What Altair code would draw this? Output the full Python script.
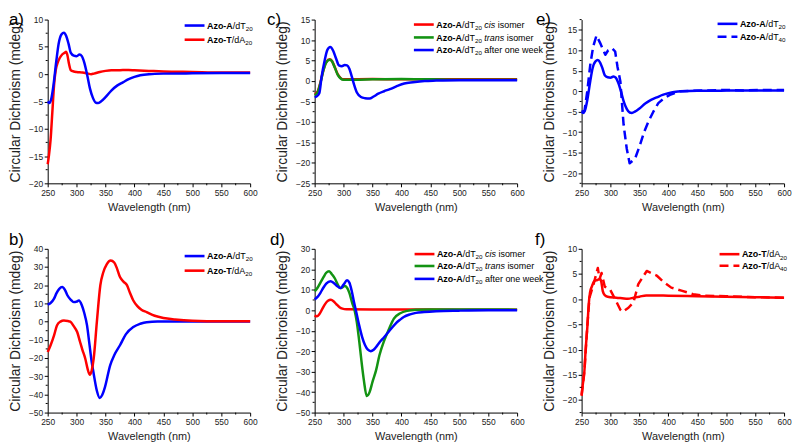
import altair as alt
import pandas as pd

# ---------------- data ----------------
# a) / e) Azo-A/dT20
WL_A20 = [250, 253, 256, 260, 265, 269, 274, 278, 282, 286, 290, 295, 300, 305, 309, 313, 318, 323,
          328, 333, 337, 342, 350, 360, 370, 380, 390, 400, 410, 425, 450, 500, 550, 600]
CD_A20 = [-5.0, -5.3, -4.6, -2.0, 2.5, 5.6, 7.3, 7.6, 7.0, 5.6, 3.9, 3.4, 3.3, 3.6, 3.3, 2.2, 0.0, -2.6,
          -4.3, -5.2, -5.3, -5.0, -4.2, -3.0, -2.1, -1.5, -0.9, -0.5, -0.2, 0.0, 0.1, 0.15, 0.2, 0.2]
# a) Azo-T/dA20
WL_T20a = [250, 252, 255, 258, 261, 264, 267, 271, 275, 279, 282, 284, 287, 290, 295, 300, 310, 320,
           325, 330, 340, 350, 360, 370, 380, 390, 400, 425, 450, 500, 550, 600]
CD_T20a = [-16.5, -15.0, -12.0, -7.0, -2.0, 0.8, 2.0, 3.0, 3.6, 3.9, 4.1, 3.5, 1.8, 0.7, 0.5, 0.4, 0.3, 0.1,
           0.0, 0.1, 0.4, 0.6, 0.7, 0.7, 0.75, 0.75, 0.7, 0.6, 0.5, 0.4, 0.3, 0.3]
# b)
WL_bA = [250, 255, 261, 265, 270, 275, 280, 284, 290, 295, 300, 304, 309, 313, 318, 322, 326, 329, 335,
         340, 344, 349, 358, 365, 375, 385, 398, 410, 421, 440, 500, 600]
CD_bA = [9.4, 10.2, 12.6, 15.5, 18.0, 19.0, 17.3, 14.5, 12.0, 10.7, 11.0, 11.6, 9.0, 5.0, -2.1, -12.0, -22.0,
         -27.7, -38.0, -42.0, -40.5, -36.0, -24.0, -18.5, -13.0, -7.0, -3.0, -1.2, -0.3, 0.0, 0.0, 0.0]
WL_bT = [250, 255, 261, 266, 272, 278, 285, 289, 295, 301, 306, 310, 315, 319, 322.6, 326, 329.5, 335, 341,
         346, 352, 359, 365, 370, 375, 381, 387, 392, 398, 405, 412, 421, 435, 450, 470, 500, 550, 600]
CD_bT = [-16.7, -13.0, -7.6, -2.1, 0.0, 0.6, 0.3, 0.0, -2.5, -5.7, -11.2, -15.5, -20.4, -26.0, -29.2, -27.0,
         -20.4, -0.2, 20.0, 27.0, 31.5, 33.6, 32.5, 29.0, 24.5, 22.0, 20.0, 16.0, 11.6, 8.5, 6.5, 5.2, 3.2,
         2.0, 1.2, 0.5, 0.2, 0.2]
# c) low concentration
WL_cCis = [250, 255, 260, 265, 270, 276, 280, 285, 290, 295, 300, 350, 400, 450, 500, 600]
CD_cCis = [-3.2, -2.6, -0.3, 2.6, 4.6, 5.3, 4.9, 3.3, 1.6, 0.7, 0.4, 0.5, 0.4, 0.4, 0.4, 0.4]
WL_cTrans = [250, 255, 260, 265, 270, 276, 280, 285, 290, 295, 300, 320, 350, 400, 450, 500, 600]
CD_cTrans = [-3.5, -2.8, -0.5, 2.5, 4.5, 5.2, 4.8, 3.2, 1.5, 0.6, 0.3, 0.3, 0.4, 0.5, 0.4, 0.3, 0.3]
WL_cWeek = [250, 253, 258, 262, 267, 272, 277, 282, 287, 292, 297, 302, 306, 310, 314, 318, 323, 330,
            337, 345, 352, 360, 370, 380, 393, 405, 420, 440, 460, 500, 600]
CD_cWeek = [-4.0, -3.8, -3.0, 1.0, 4.8, 7.6, 8.3, 7.4, 5.5, 3.8, 3.6, 3.9, 3.8, 3.0, 1.2, -0.8, -2.8, -3.9,
            -4.2, -4.3, -3.8, -3.1, -2.5, -2.0, -1.2, -0.6, -0.3, 0.0, 0.1, 0.2, 0.2]
# d) high concentration
WL_dCis = [250, 254, 258, 263, 268, 273, 278, 283, 288, 293, 298, 305, 350, 400, 500, 600]
CD_dCis = [-2.5, -3.0, -2.0, 0.5, 3.0, 4.6, 5.1, 4.3, 2.8, 1.5, 0.8, 0.5, 0.4, 0.4, 0.3, 0.3]
WL_dTrans = [250, 255, 260, 265, 270, 275, 280, 285, 290, 294.6, 298, 302, 306, 310, 315, 319, 323, 327,
             331, 335, 340, 345, 350, 356, 362, 370, 378, 387, 398, 410, 425, 450, 500, 600]
CD_dTrans = [9.2, 11.0, 13.5, 16.0, 18.3, 19.1, 17.5, 15.5, 12.5, 10.8, 11.2, 11.8, 11.0, 8.5, 3.5, 0.0,
             -6.0, -15.0, -25.0, -34.0, -41.9, -40.0, -35.0, -29.5, -22.0, -15.0, -9.5, -4.1, -1.5, -0.3,
             0.2, 0.4, 0.4, 0.3]
WL_dWeek = [250, 255, 260, 265, 270, 277.6, 283, 288, 294.6, 300, 306, 310, 314, 318, 322, 327, 332, 337,
            342, 347, 352, 358, 364, 370, 378, 390, 397, 404, 415, 425, 439, 460, 500, 550, 600]
CD_dWeek = [5.3, 6.5, 8.5, 11.0, 13.0, 14.2, 13.3, 12.0, 10.8, 12.5, 14.6, 13.5, 9.5, 4.0, -1.0, -7.4,
            -13.0, -17.0, -19.3, -20.0, -19.3, -17.3, -15.0, -13.2, -10.5, -6.5, -4.8, -3.3, -2.0, -1.3,
            -0.9, -0.5, -0.2, 0.0, 0.0]
# e) Azo-A/dT40 (dashed)
WL_A40 = [250, 255, 259.7, 265, 270, 275.7, 283, 291, 296, 302.6, 308, 312, 317, 322.6, 328, 333, 338,
          342.6, 351, 358, 365.5, 374, 382.6, 392, 402.6, 420, 440, 470, 500, 530, 560, 600]
CD_A40 = [-5.0, -4.8, -0.1, 6.5, 10.9, 13.6, 11.5, 8.9, 10.0, 10.5, 9.7, 6.0, 2.4, -8.2, -14.0, -17.6,
          -17.0, -16.4, -13.1, -10.0, -7.4, -5.0, -2.9, -1.8, -0.9, 0.0, 0.1, 0.2, 0.3, 0.2, 0.3, 0.3]
# f) Azo-T/dA20 (solid) and Azo-T/dA40 (dashed)
WL_T20f = [250, 252, 254.6, 257, 260.4, 262, 264.5, 268, 272, 277, 282, 284, 286.6, 290, 295, 310, 320,
           330, 340, 350, 361.6, 400, 450, 500, 550, 600]
CD_T20f = [-19.2, -17.0, -14.6, -10.0, -4.7, -1.5, 1.3, 2.6, 3.6, 3.8, 4.0, 3.5, 1.6, 0.8, 0.5, 0.3, 0.2,
           0.1, 0.3, 0.5, 0.75, 0.7, 0.6, 0.5, 0.4, 0.3]
WL_T40 = [250, 255, 260, 263.6, 270.5, 278, 281, 284.5, 290, 299.7, 308, 317, 321, 331, 339.7, 348, 362.6,
          379.7, 391, 405, 422.6, 442.6, 460, 500, 550, 600]
CD_T40 = [-19.0, -14.0, -5.0, 0.3, 2.9, 6.2, 4.0, 5.2, 2.5, 1.8, 0.0, -2.1, -2.5, -1.7, -0.6, 3.0, 5.6,
          4.7, 3.5, 2.3, 1.7, 1.0, 0.7, 0.6, 0.4, 0.3]

X_TICKS = [250, 300, 350, 400, 450, 500, 550, 600]
X_MINOR = [275, 325, 375, 425, 475, 525, 575]

# ---------------- style ----------------
FONT = "Liberation Sans"
W, H = 204, 165
BLUE, RED, GREEN = "#0000FF", "#FF0000", "#139313"
LW = 2.5
DASH = [9, 5]
one = pd.DataFrame({"k": [0]})

REG = {' ': 278, '/': 278, 'd': 556, 'T': 611, 'A': 667, '0': 556, '2': 556, '4': 556, 'c': 500,
       'i': 222, 's': 500, 'o': 556, 'm': 833, 'e': 556, 'r': 333, 't': 278, 'a': 556, 'n': 556,
       'f': 278, 'w': 722, 'k': 500, 'h': 556}
BOLD = {'A': 722, 'z': 500, 'o': 611, '-': 333, 'T': 611}
FS, FS_SUB = 9, 6.3


def text_w(t, style, size):
    tab = BOLD if style == "b" else REG
    return sum(tab.get(ch, 556) for ch in t) / 1000.0 * size


def legend_layers(x0, rows):
    layers = []
    for (y, color, dash, segs) in rows:
        kw = dict(color=color, strokeWidth=2.6, strokeCap="butt")
        if dash:
            kw["strokeDash"] = dash
        layers.append(alt.Chart(one).mark_rule(**kw).encode(
            x=alt.value(x0), x2=alt.value(x0 + 20), y=alt.value(y)))
        cx = x0 + 22.5
        base = y + 3.2
        for (t, st) in segs:
            size = FS_SUB if st == "sub" else FS
            lead = len(t) - len(t.lstrip(" "))
            cx += lead * REG[' '] / 1000.0 * size
            t = t.lstrip(" ")
            props = dict(align="left", baseline="alphabetic", font=FONT, fontSize=size,
                         color="black", text=t)
            if st == "b":
                props["fontWeight"] = "bold"
            if st == "i":
                props["fontStyle"] = "italic"
            yy = base + 2.2 if st == "sub" else base
            layers.append(alt.Chart(one).mark_text(**props).encode(
                x=alt.value(cx), y=alt.value(yy)))
            cx += text_w(t, st, size)
    return layers


def panel(label, lab_xy, ydom, ymajor, yminor, series, leg_x0, leg_rows):
    xenc = alt.X("wl:Q", scale=alt.Scale(domain=[250, 600], nice=False, zero=False),
                 axis=alt.Axis(values=X_TICKS, title="Wavelength (nm)"))
    yenc = alt.Y("cd:Q", scale=alt.Scale(domain=ydom, nice=False, zero=False),
                 axis=alt.Axis(values=ymajor, title="Circular Dichroism (mdeg)"))
    layers = []
    for (wl, cd, color, dash, interp) in series:
        kw = dict(color=color, strokeWidth=LW, interpolate=interp, strokeCap="butt", strokeJoin="round")
        if dash:
            kw["strokeDash"] = dash
        layers.append(alt.Chart(pd.DataFrame({"wl": wl, "cd": cd})).mark_line(**kw).encode(x=xenc, y=yenc))
    layers.append(alt.Chart(pd.DataFrame({"wl": X_MINOR})).mark_rule(color="black", strokeWidth=1).encode(
        x=xenc, y=alt.value(H), y2=alt.value(H + 2)))
    layers.append(alt.Chart(pd.DataFrame({"cd": yminor})).mark_rule(color="black", strokeWidth=1).encode(
        y=yenc, x=alt.value(0), x2=alt.value(-2)))
    layers += legend_layers(leg_x0, leg_rows)
    layers.append(alt.Chart(one).mark_text(text=label, align="left", baseline="alphabetic",
                                           font=FONT, fontSize=17, color="black").encode(
        x=alt.value(lab_xy[0]), y=alt.value(lab_xy[1])))
    return alt.layer(*layers).properties(width=W, height=H)


def rng(a, b, s):
    out = []
    v = a
    while v <= b + 1e-9:
        out.append(round(v, 2))
        v += s
    return out


LA20 = [("Azo-A", "b"), ("/dT", "n"), ("20", "sub")]
LA40 = [("Azo-A", "b"), ("/dT", "n"), ("40", "sub")]
LT20 = [("Azo-T", "b"), ("/dA", "n"), ("20", "sub")]
LT40 = [("Azo-T", "b"), ("/dA", "n"), ("40", "sub")]
LCIS = LA20 + [(" cis", "i"), (" isomer", "n")]
LTRANS = LA20 + [(" trans", "i"), (" isomer", "n")]
LWEEK = LA20 + [(" after one week", "n")]

TOP_BASE = 5
pa = panel("a)", (-39, TOP_BASE), [-20, 10], rng(-20, 10, 5), rng(-17.5, 7.5, 5),
           [(WL_T20a, CD_T20a, RED, None, "monotone"), (WL_A20, CD_A20, BLUE, None, "monotone")],
           138, [(6, BLUE, None, LA20), (20.3, RED, None, LT20)])
pb = panel("b)", (-39, -4), [-50, 40], rng(-50, 40, 10), rng(-45, 35, 10),
           [(WL_bA, CD_bA, BLUE, None, "monotone"), (WL_bT, CD_bT, RED, None, "monotone")],
           138, [(7.3, BLUE, None, LA20), (22, RED, None, LT20)])
pc = panel("c)", (-48, TOP_BASE), [-25, 15], rng(-25, 15, 5), rng(-22.5, 12.5, 5),
           [(WL_cCis, CD_cCis, RED, None, "monotone"), (WL_cTrans, CD_cTrans, GREEN, None, "monotone"),
            (WL_cWeek, CD_cWeek, BLUE, None, "monotone")],
           100, [(5, RED, None, LCIS), (18, GREEN, None, LTRANS), (30.7, BLUE, None, LWEEK)])
pd_ = panel("d)", (-45, -4), [-50, 30], rng(-50, 30, 10), rng(-45, 25, 10),
            [(WL_dCis, CD_dCis, RED, None, "monotone"), (WL_dTrans, CD_dTrans, GREEN, None, "monotone"),
             (WL_dWeek, CD_dWeek, BLUE, None, "monotone")],
            100.7, [(5.3, RED, None, LCIS), (17.3, GREEN, None, LTRANS), (30.3, BLUE, None, LWEEK)])
pe = panel("e)", (-46, TOP_BASE), [-22.5, 17.5], rng(-20, 15, 5), rng(-22.5, 17.5, 5),
           [(WL_A20, CD_A20, BLUE, None, "monotone"), (WL_A40, CD_A40, BLUE, DASH, "linear")],
           137, [(4.3, BLUE, None, LA20), (17.3, BLUE, DASH, LA40)])
pf = panel("f)", (-47, -4), [-22.5, 10], rng(-20, 10, 5), rng(-22.5, 7.5, 5),
           [(WL_T20f, CD_T20f, RED, None, "monotone"), (WL_T40, CD_T40, RED, DASH, "linear")],
           139, [(5.4, RED, None, LT20), (17, RED, DASH, LT40)])

chart = alt.concat(pa, pc, pe, pb, pd_, pf, columns=3, spacing={"row": 66, "column": 65},
                   bounds="flush").properties(
    padding={"left": 0, "top": 1, "right": 0, "bottom": 0}
).configure_view(stroke=None).configure_axis(
    domainColor="black", domainWidth=1, tickColor="black", tickSize=3.5, tickWidth=1,
    labelFont=FONT, labelFontSize=8.5, labelColor="#222222", labelPadding=1.5,
    labelFlush=False, labelOverlap=False,
    titleFont=FONT, titleFontWeight="normal", titleColor="#222222", grid=False
).configure_axisX(titleFontSize=11, titlePadding=5).configure_axisY(titleFontSize=14, titlePadding=6)

chart.save("out.html", embed_options={"renderer": "svg", "actions": False})
